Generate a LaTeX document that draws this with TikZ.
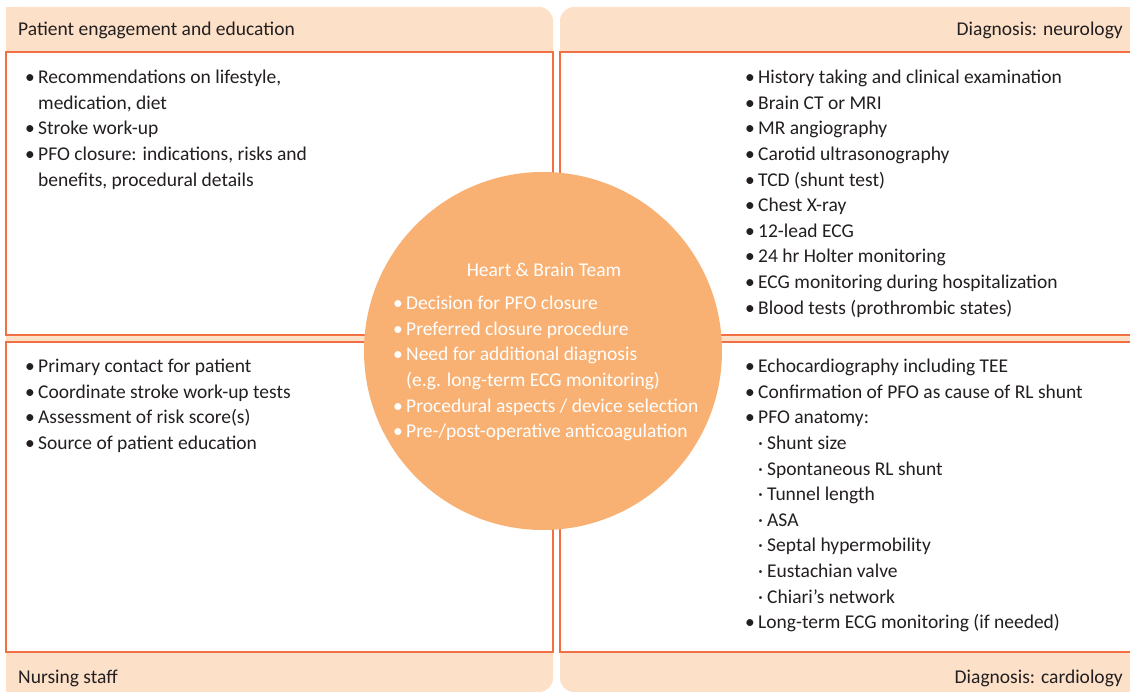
\documentclass[tikz,border=0pt]{standalone}
\usepackage{fontspec}
\setmainfont{Carlito}

\definecolor{bandpeach}{HTML}{FDE0C8}
\definecolor{lineorange}{HTML}{F26F43}
\definecolor{teamorange}{HTML}{F8B173}
\definecolor{inkgray}{HTML}{231F20}

\newcommand\itemdot{\makebox[13pt][l]{\textbullet}}
\newcommand\subdot{\hspace*{13pt}\makebox[9pt][l]{·}}
\newcommand\hang{\hspace*{13pt}}
\newcommand\topstrut{\rule{0pt}{15pt}}

\begin{document}
\begin{tikzpicture}[x=1pt,y=-1pt,
    band/.style={fill=bandpeach},
    box/.style={draw=lineorange, line width=1.3pt, fill=white},
    boxline/.style={draw=lineorange, line width=1.3pt},
    listtext/.style={anchor=north west, align=left, inner sep=0pt, text=inkgray,
        font=\fontsize{19.5}{25.6}\selectfont, execute at begin node=\topstrut},
    bandtext/.style={inner sep=0pt, text=inkgray, font=\fontsize{19.5}{24}\selectfont},
    teamtext/.style={listtext, text=white}]

\useasboundingbox (0,0) rectangle (1130,692);

\def\midl{553}
\def\midr{560}

% the two side bands
\fill[band, rounded corners=14pt] (6,7) rectangle (\midl,692);
\fill[band] (6,7) rectangle (300,692);
\fill[band, rounded corners=14pt] (\midr,7) rectangle (1130,692);
\fill[band] (800,7) rectangle (1130,692);

% white boxes
\filldraw[box] (6,52) rectangle (\midl,335);
\filldraw[box] (6,342) rectangle (\midl,652);
\fill[white] (\midr,52) rectangle (1130,335);
\fill[white] (\midr,342) rectangle (1130,652);
\draw[boxline] (1131,52) -- (\midr,52) -- (\midr,335) -- (1131,335);
\draw[boxline] (1131,342) -- (\midr,342) -- (\midr,652) -- (1131,652);

% band titles
\node[bandtext, anchor=base west] (edu) at (18,36) {Patient engagement and education};
\node[bandtext, anchor=base east] (neuro) at (1123,36) {Diagnosis: neurology};
\node[bandtext, anchor=base west] (nurse) at (18,683) {Nursing staff};
\node[bandtext, anchor=base east] (cardio) at (1123,683) {Diagnosis: cardiology};

% lists (first baseline 15pt below the anchor)
\node[listtext] (edulist) at (25,70) {%
    \itemdot Recommendations on lifestyle,\\
    \hang medication, diet\\
    \itemdot Stroke work-up\\
    \itemdot PFO closure: indications, risks and\\
    \hang benefits, procedural details};

\node[listtext] (neurolist) at (745,70) {%
    \itemdot History taking and clinical examination\\
    \itemdot Brain CT or MRI\\
    \itemdot MR angiography\\
    \itemdot Carotid ultrasonography\\
    \itemdot TCD (shunt test)\\
    \itemdot Chest X-ray\\
    \itemdot 12-lead ECG\\
    \itemdot 24 hr Holter monitoring\\
    \itemdot ECG monitoring during hospitalization\\
    \itemdot Blood tests (prothrombic states)};

\node[listtext] (nurselist) at (25,359) {%
    \itemdot Primary contact for patient\\
    \itemdot Coordinate stroke work-up tests\\
    \itemdot Assessment of risk score(s)\\
    \itemdot Source of patient education};

\node[listtext] (cardiolist) at (745,359) {%
    \itemdot Echocardiography including TEE\\
    \itemdot Confirmation of PFO as cause of RL shunt\\
    \itemdot PFO anatomy:\\
    \subdot Shunt size\\
    \subdot Spontaneous RL shunt\\
    \subdot Tunnel length\\
    \subdot ASA\\
    \subdot Septal hypermobility\\
    \subdot Eustachian valve\\
    \subdot Chiari’s network\\
    \itemdot Long-term ECG monitoring (if needed)};

% the team in the middle
\node[circle, fill=teamorange, minimum size=358pt, inner sep=0pt] (team) at (543,351) {};
\node[bandtext, text=white, anchor=base] (teamhd) at (544,277) {Heart \& Brain Team};
\node[teamtext] (teamlist) at (393,296) {%
    \itemdot Decision for PFO closure\\
    \itemdot Preferred closure procedure\\
    \itemdot Need for additional diagnosis\\
    \hang (e.g. long-term ECG monitoring)\\
    \itemdot Procedural aspects / device selection\\
    \itemdot Pre-/post-operative anticoagulation};

\end{tikzpicture}
\end{document}
